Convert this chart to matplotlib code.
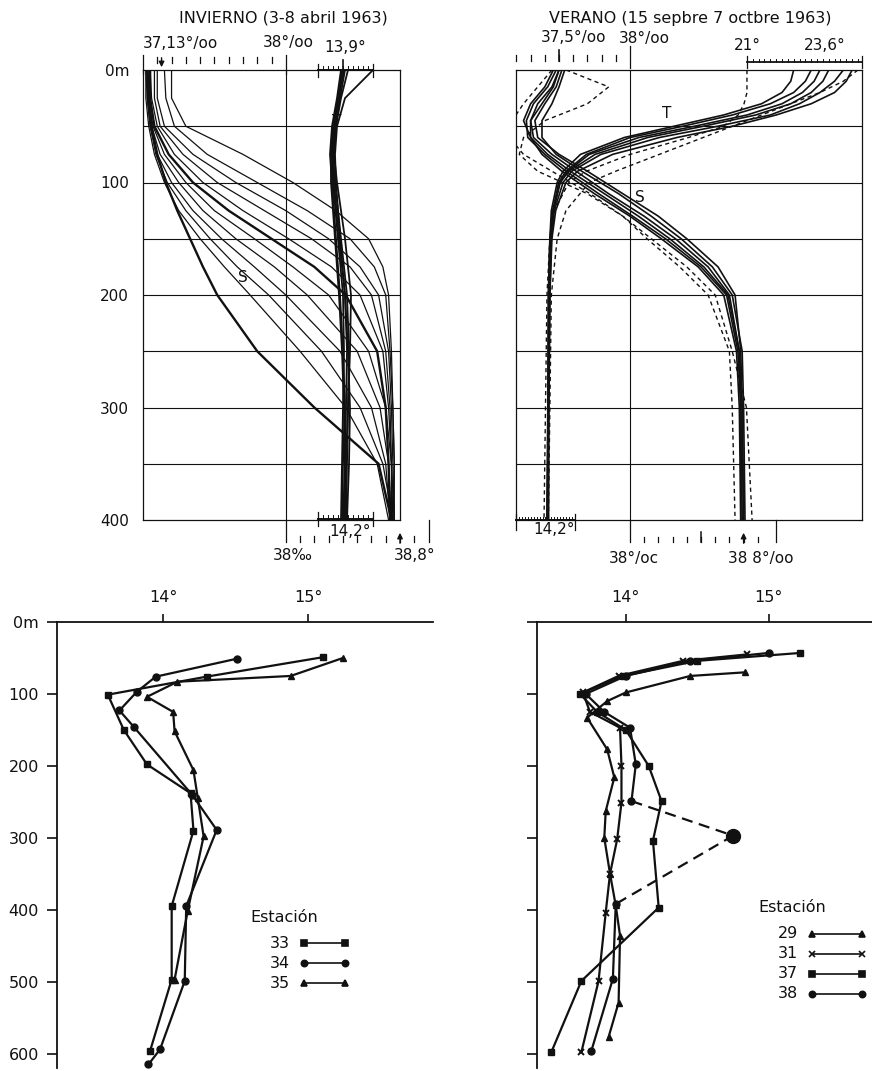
import numpy as np
import matplotlib
matplotlib.use("Agg")
import matplotlib.pyplot as plt
from matplotlib.transforms import blended_transform_factory as blend

W, H = 872, 1071
INK = "#111111"
plt.rcParams["font.family"] = ["DejaVu Sans"]

# ---------------------------------------------------------------------------
# Data: winter profiles (top-left), salinity in per mille, temperature in °C
# ---------------------------------------------------------------------------
win_sal_depth = [0, 25, 50, 75, 100, 125, 150, 175, 200, 250, 300, 350, 400]
win_sal = [
    [37.20, 37.20, 37.30, 37.70, 38.05, 38.35, 38.58, 38.68, 38.72, 38.74, 38.75, 38.76, 38.76],
    [37.15, 37.16, 37.22, 37.45, 37.80, 38.15, 38.45, 38.62, 38.70, 38.73, 38.75, 38.76, 38.75],
    [37.10, 37.10, 37.15, 37.35, 37.65, 38.00, 38.30, 38.52, 38.65, 38.72, 38.74, 38.75, 38.76],
    [37.08, 37.08, 37.12, 37.28, 37.52, 37.85, 38.18, 38.45, 38.60, 38.70, 38.73, 38.74, 38.74],
    [37.05, 37.06, 37.10, 37.22, 37.42, 37.70, 38.02, 38.32, 38.52, 38.68, 38.72, 38.74, 38.75],
    [37.05, 37.05, 37.08, 37.18, 37.35, 37.60, 37.90, 38.20, 38.42, 38.64, 38.70, 38.72, 38.73],
    [37.04, 37.04, 37.07, 37.15, 37.30, 37.50, 37.78, 38.05, 38.30, 38.58, 38.70, 38.74, 38.76],
    [37.03, 37.04, 37.06, 37.12, 37.25, 37.42, 37.65, 37.92, 38.15, 38.50, 38.66, 38.72, 38.74],
    [37.03, 37.03, 37.05, 37.10, 37.20, 37.35, 37.55, 37.78, 38.00, 38.38, 38.60, 38.70, 38.73],
    [37.02, 37.03, 37.05, 37.09, 37.17, 37.30, 37.47, 37.66, 37.88, 38.25, 38.52, 38.68, 38.75],
    [37.02, 37.02, 37.04, 37.08, 37.15, 37.25, 37.40, 37.57, 37.75, 38.10, 38.42, 38.64, 38.72],
    [37.03, 37.04, 37.06, 37.10, 37.16, 37.24, 37.33, 37.42, 37.52, 37.80, 38.20, 38.65, 38.74],
]
win_sal_bold = [5, 11]

win_tem_depth = [0, 25, 50, 75, 100, 150, 200, 250, 300, 350, 400]
win_tem = [
    [13.90, 13.86, 13.80, 13.79, 13.80, 13.85, 13.90, 13.91, 13.90, 13.89, 13.88],
    [13.92, 13.87, 13.82, 13.80, 13.82, 13.88, 13.94, 13.96, 13.95, 13.93, 13.92],
    [13.88, 13.84, 13.79, 13.77, 13.79, 13.83, 13.87, 13.90, 13.92, 13.90, 13.89],
    [13.95, 13.88, 13.83, 13.81, 13.84, 13.92, 13.98, 13.97, 13.95, 13.94, 13.93],
    [14.20, 13.92, 13.84, 13.82, 13.83, 13.87, 13.92, 13.94, 13.93, 13.92, 13.91],
    [13.91, 13.85, 13.81, 13.80, 13.81, 13.86, 13.92, 13.95, 13.97, 13.96, 13.94],
    [13.89, 13.85, 13.80, 13.78, 13.78, 13.82, 13.86, 13.89, 13.91, 13.92, 13.90],
]

# ---------------------------------------------------------------------------
# Data: summer profiles (top-right)
# ---------------------------------------------------------------------------
sum_tem_depth = [0, 10, 20, 30, 40, 50, 60, 75, 90, 100, 125, 150, 200, 300, 400]
sum_tem = [
    [23.8, 23.6, 23.2, 22.5, 21.3, 19.5, 17.6, 15.8, 14.9, 14.6, 14.35, 14.25, 14.20, 14.20, 14.15],
    [24.3, 24.0, 23.5, 22.8, 21.8, 20.0, 18.0, 16.0, 15.0, 14.7, 14.40, 14.30, 14.25, 14.20, 14.20],
    [23.2, 23.0, 22.6, 21.8, 20.5, 18.8, 17.0, 15.5, 14.8, 14.55, 14.35, 14.28, 14.22, 14.18, 14.15],
    [24.6, 24.4, 24.0, 23.2, 22.0, 20.5, 18.6, 16.4, 15.2, 14.8, 14.45, 14.32, 14.25, 14.22, 14.20],
    [22.6, 22.5, 22.2, 21.5, 20.2, 18.5, 16.8, 15.3, 14.7, 14.5, 14.30, 14.25, 14.20, 14.18, 14.17],
    [23.5, 23.3, 22.9, 22.2, 21.0, 19.2, 17.3, 15.6, 14.85, 14.6, 14.38, 14.28, 14.23, 14.20, 14.18],
]
sum_tem_dashed = [
    [21.0, 21.0, 21.0, 20.9, 20.7, 20.2, 19.0, 17.0, 15.5, 14.9, 14.40, 14.25, 14.15, 14.10, 14.05],
    [24.8, 24.3, 23.5, 22.5, 21.5, 20.5, 19.5, 18.0, 16.5, 15.6, 14.80, 14.50, 14.30, 14.25, 14.20],
]

sum_sal_depth = [0, 15, 30, 45, 60, 75, 90, 110, 130, 150, 175, 200, 250, 300, 400]
sum_sal = [
    [37.50, 37.45, 37.35, 37.30, 37.32, 37.45, 37.62, 37.85, 38.10, 38.32, 38.55, 38.70, 38.77, 38.78, 38.79],
    [37.52, 37.48, 37.40, 37.33, 37.35, 37.50, 37.70, 37.95, 38.20, 38.40, 38.62, 38.74, 38.78, 38.79, 38.80],
    [37.48, 37.42, 37.32, 37.27, 37.28, 37.40, 37.55, 37.78, 38.02, 38.25, 38.50, 38.68, 38.76, 38.78, 38.78],
    [37.54, 37.50, 37.45, 37.38, 37.38, 37.48, 37.66, 37.92, 38.15, 38.36, 38.58, 38.72, 38.79, 38.80, 38.81],
    [37.46, 37.40, 37.30, 37.25, 37.30, 37.42, 37.58, 37.82, 38.06, 38.28, 38.52, 38.69, 38.77, 38.79, 38.80],
    [37.50, 37.46, 37.38, 37.30, 37.30, 37.38, 37.52, 37.75, 38.00, 38.22, 38.48, 38.66, 38.75, 38.77, 38.78],
]
sum_sal_dashed = [
    [37.55, 37.85, 37.70, 37.40, 37.25, 37.22, 37.35, 37.70, 37.95, 38.15, 38.40, 38.60, 38.72, 38.82, 38.86],
    [37.45, 37.35, 37.25, 37.17, 37.15, 37.25, 37.45, 37.72, 37.95, 38.12, 38.35, 38.55, 38.70, 38.72, 38.74],
]

# ---------------------------------------------------------------------------
# Data: station temperature profiles (bottom)
# ---------------------------------------------------------------------------
st33_depth = [49, 76, 101, 150, 198, 238, 290, 395, 497, 597]
st33_temp = [15.10, 14.30, 13.62, 13.73, 13.89, 14.19, 14.21, 14.06, 14.06, 13.91]
st34_depth = [51, 76, 97, 123, 146, 240, 289, 395, 499, 594, 615]
st34_temp = [14.51, 13.95, 13.82, 13.70, 13.80, 14.20, 14.37, 14.16, 14.15, 13.98, 13.90]
st35_depth = [50, 75, 83, 104, 125, 152, 206, 245, 298, 402, 497]
st35_temp = [15.24, 14.88, 14.10, 13.89, 14.07, 14.08, 14.21, 14.24, 14.28, 14.17, 14.08]

st29_depth = [70, 75, 98, 110, 133, 177, 216, 263, 300, 350, 394, 436, 529, 577]
st29_temp = [14.83, 14.45, 14.00, 13.87, 13.73, 13.87, 13.92, 13.86, 13.85, 13.89, 13.93, 13.96, 13.95, 13.88]
st31_depth = [45, 54, 75, 98, 125, 147, 200, 251, 302, 350, 404, 499, 598]
st31_temp = [14.85, 14.40, 13.95, 13.70, 13.75, 13.96, 13.97, 13.97, 13.94, 13.89, 13.86, 13.81, 13.69]
st37_depth = [43, 54, 75, 100, 125, 150, 200, 249, 304, 397, 499, 598]
st37_temp = [15.22, 14.50, 13.98, 13.68, 13.80, 14.00, 14.16, 14.25, 14.19, 14.23, 13.69, 13.48]
st38_depth = [43, 54, 75, 100, 125, 147, 198, 249, 297, 392, 496, 596]
st38_temp = [15.00, 14.45, 14.00, 13.72, 13.85, 14.03, 14.07, 14.04, 14.75, 13.93, 13.91, 13.76]
st38_dashed = [7, 8, 9]   # indices joined by the dashed segment

fig = plt.figure(figsize=(W / 100, H / 100), dpi=100)
ov = fig.add_axes([0, 0, 1, 1], zorder=5)
ov.set_xlim(0, W)
ov.set_ylim(H, 0)
ov.axis("off")
ov.patch.set_alpha(0)


def px_axes(x0, y0, x1, y1):
    return fig.add_axes([x0 / W, 1 - y1 / H, (x1 - x0) / W, (y1 - y0) / H])


def ticks(ax, vals, y0, y1, lw=0.9):
    tr = blend(ax.transData, ov.transData)
    for v in vals:
        ov.plot([v, v], [y0, y1], color=INK, lw=lw, transform=tr, clip_on=False)


def hline(ax, v0, v1, y, lw=0.9, ls="-"):
    tr = blend(ax.transData, ov.transData)
    ov.plot([v0, v1], [y, y], color=INK, lw=lw, ls=ls, transform=tr, clip_on=False)


def label(ax, v, y, s, size=11, **kw):
    tr = blend(ax.transData, ov.transData)
    ov.text(v, y, s, transform=tr, fontsize=size, color=INK, ha="center", va="center", **kw)


def arrow(ax, v, y0, y1):
    tr = blend(ax.transData, ov.transData)
    ov.annotate("", xy=(v, y1), xytext=(v, y0), xycoords=tr, textcoords=tr,
                arrowprops=dict(arrowstyle="-|>", color=INK, lw=1.0, mutation_scale=8))


def profile_box(ax, depth_labels):
    ax.set_ylim(400, 0)
    for d in range(50, 400, 50):
        ax.axhline(d, color=INK, lw=0.8)
    ax.axvline(38.0, color=INK, lw=0.8)
    for s in ax.spines.values():
        s.set_linewidth(0.9)
        s.set_color(INK)
    ax.set_xticks([])
    ax.set_yticks([0, 100, 200, 300, 400])
    ax.set_yticklabels(["0m", "100", "200", "300", "400"] if depth_labels else [])
    ax.tick_params(axis="y", length=0, pad=10, labelsize=11, colors=INK)


# ---------------------------------------------------------------------------
# Winter panel
# ---------------------------------------------------------------------------
ax1 = px_axes(143, 70, 400, 520)
ax1.set_xlim(37.0, 38.8)
profile_box(ax1, True)
for i, s in enumerate(win_sal):
    ax1.plot(s, win_sal_depth, color=INK, lw=1.7 if i in win_sal_bold else 0.9)
tx1 = ax1.twiny()
tx1.set_xlim(11.9, 14.47)
tx1.axis("off")
for t in win_tem:
    tx1.plot(t, win_tem_depth, color=INK, lw=1.3)

# rulers winter
ticks(ax1, np.arange(37.1, 38.0, 0.1), 57, 63)
ticks(ax1, [37.0, 38.0], 55, 74)
arrow(ax1, 37.13, 55, 70)
label(ax1, 37.26, 43, "37,13°/oo")
label(ax1, 38.02, 43, "38°/oo")
hline(tx1, 13.65, 14.2, 70, lw=1.4)
ticks(tx1, np.arange(13.65, 14.21, 0.05), 66, 70, lw=0.7)
ticks(tx1, [13.65, 14.2], 64, 77)
ticks(tx1, [13.9], 60, 76, lw=1.2)
label(tx1, 13.92, 47, "13,9°")
ticks(ax1, np.arange(38.1, 39.0, 0.1), 536, 542)
ticks(ax1, [38.0, 39.0], 520, 542)
arrow(ax1, 38.8, 546, 530)
label(ax1, 38.05, 556, "38‰")
label(ax1, 38.9, 556, "38,8°")
hline(tx1, 13.65, 14.2, 519, lw=1.4)
ticks(tx1, np.arange(13.65, 14.21, 0.05), 515, 519, lw=0.7)
ticks(tx1, [13.65, 14.2], 512, 526)
label(tx1, 13.97, 531, "14,2°")
label(ax1, 37.7, 277, "S", size=11)
label(ax1, 38.36, 122, "T", size=11)
ov.text(283, 18, "INVIERNO (3-8 abril 1963)", fontsize=11.5, color=INK,
        ha="center", va="center")

# ---------------------------------------------------------------------------
# Summer panel
# ---------------------------------------------------------------------------
ax2 = px_axes(516, 70, 862, 520)
ax2.set_xlim(37.197, 39.634)
profile_box(ax2, False)
for s in sum_sal:
    ax2.plot(s, sum_sal_depth, color=INK, lw=1.2)
for s in sum_sal_dashed:
    ax2.plot(s, sum_sal_depth, color=INK, lw=1.0, ls=(0, (3, 2.5)))
tx2 = ax2.twiny()
tx2.set_xlim(13.09, 24.94)
tx2.axis("off")
for t in sum_tem:
    tx2.plot(t, sum_tem_depth, color=INK, lw=1.2)
for t in sum_tem_dashed:
    tx2.plot(t, sum_tem_depth, color=INK, lw=1.0, ls=(0, (3, 2.5)))

ticks(ax2, np.arange(37.2, 38.0, 0.1), 55, 61)
ticks(ax2, [37.5], 50, 61, lw=1.2)
ticks(ax2, [38.0], 46, 68)
label(ax2, 37.6, 38, "37,5°/oo")
label(ax2, 38.1, 38, "38°/oo")
hline(tx2, 21.0, 24.94, 62, lw=1.3)
ticks(tx2, np.arange(21.2, 24.9, 0.2), 59, 62, lw=0.7)
ticks(tx2, [21.0, 24.94], 56, 68)
label(tx2, 21.0, 45, "21°")
label(tx2, 23.65, 45, "23,6°")
hline(tx2, 13.09, 15.1, 520, lw=1.4)
ticks(tx2, np.arange(13.2, 15.1, 0.1), 517, 520, lw=0.7)
ticks(tx2, [13.09, 15.1], 514, 530)
label(tx2, 14.4, 530, "14,2°")
ticks(ax2, np.arange(38.1, 39.0, 0.1), 537, 542)
ticks(ax2, [38.5], 532, 542, lw=1.1)
ticks(ax2, [38.0, 39.03], 520, 542)
arrow(ax2, 38.8, 546, 530)
label(ax2, 38.03, 558, "38°/oc")
label(ax2, 38.92, 559, "38 8°/oo")
label(ax2, 38.07, 197, "S", size=11)
label(tx2, 18.24, 113, "T", size=11)
ov.text(690, 18, "VERANO (15 sepbre 7 octbre 1963)", fontsize=11.5, color=INK,
        ha="center", va="center")

# ---------------------------------------------------------------------------
# Station panels
# ---------------------------------------------------------------------------
def station_axes(x0, x1, tlim, depth_labels):
    ax = px_axes(x0, 622, x1, 1068)
    ax.set_xlim(*tlim)
    ax.set_ylim(620, 0)
    ax.spines["right"].set_visible(False)
    ax.spines["bottom"].set_visible(False)
    for side in ("top", "left"):
        ax.spines[side].set_linewidth(1.3)
        ax.spines[side].set_color(INK)
    ax.xaxis.tick_top()
    ax.set_xticks([14, 15])
    ax.set_xticklabels(["14°", "15°"])
    ax.set_yticks(range(0, 700, 100))
    ax.set_yticklabels(["0m"] + [str(d) for d in range(100, 700, 100)] if depth_labels else [])
    ax.tick_params(axis="x", direction="out", length=6, width=1.2, pad=6,
                   labelsize=11.5, colors=INK)
    ax.tick_params(axis="y", direction="out", length=7, width=1.2, pad=6,
                   labelsize=11.5, colors=INK)
    return ax


STY = dict(color=INK, lw=1.6, ms=5, mfc=INK, mec=INK)

ax3 = station_axes(57, 433, (13.27, 15.86), True)
ax3.plot(st33_temp, st33_depth, marker="s", **STY)
ax3.plot(st34_temp, st34_depth, marker="o", **STY)
ax3.plot(st35_temp, st35_depth, marker="^", **STY)

ax4 = station_axes(537, 872, (13.38, 15.72), False)
ax4.plot(st29_temp, st29_depth, marker="^", **STY)
ax4.plot(st31_temp, st31_depth, marker="x", mew=1.4, **STY)
ax4.plot(st37_temp, st37_depth, marker="s", **STY)
a, b, c = st38_dashed
ax4.plot(st38_temp[:a + 1], st38_depth[:a + 1], marker="o", **STY)
ax4.plot(st38_temp[a:c + 1], st38_depth[a:c + 1], ls=(0, (5, 3)), **STY)
ax4.plot(st38_temp[c:], st38_depth[c:], marker="o", **STY)
ax4.plot(st38_temp[b], st38_depth[b], marker="o", ms=10, color=INK)


def station_key(x, y, names, markers, length):
    ov.text(x, y, "Estación", fontsize=11.5, color=INK, ha="left", va="center")
    for k, (n, m) in enumerate(zip(names, markers)):
        yy = y + 26 + 20 * k
        ov.text(x + 40, yy, n, fontsize=11.5, color=INK, ha="right", va="center")
        ov.plot([x + 54, x + 54 + length], [yy, yy], color=INK, lw=1.2, marker=m, ms=4.5,
                mew=1.2, mfc=INK, mec=INK)


station_key(250, 917, ["33", "34", "35"], ["s", "o", "^"], 41)
station_key(758, 908, ["29", "31", "37", "38"], ["^", "x", "s", "o"], 50)

fig.savefig("out.png", dpi=100, facecolor="white")
